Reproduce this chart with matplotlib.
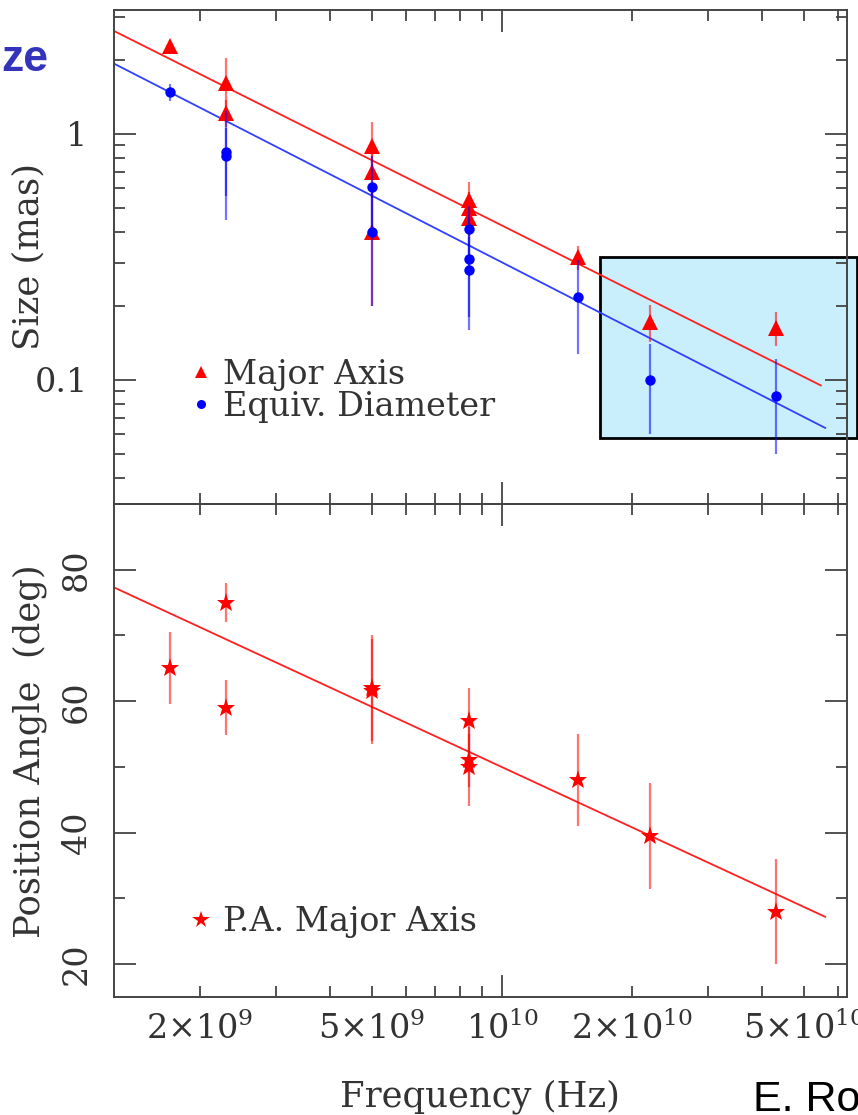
import math
import matplotlib
matplotlib.use("Agg")
import matplotlib.pyplot as plt
from matplotlib import ticker
from matplotlib.lines import Line2D
from matplotlib.patches import Rectangle

# --- data -----------------------------------------------------------------
# frequencies in Hz, sizes in mas, position angles in deg
freq_major = [1.7e9, 2.3e9, 2.3e9, 5.0e9, 5.0e9, 5.0e9, 8.4e9, 8.4e9, 8.4e9, 15e9, 22e9, 43e9]
size_major = [2.28, 1.61, 1.22, 0.89, 0.70, 0.40, 0.54, 0.50, 0.455, 0.316, 0.172, 0.163]
err_major = [0.10, 0.43, 0.15, 0.23, 0.15, 0.20, 0.10, 0.08, 0.07, 0.035, 0.03, 0.025]

freq_equiv = [1.7e9, 2.3e9, 2.3e9, 5.0e9, 5.0e9, 8.4e9, 8.4e9, 8.4e9, 15e9, 22e9, 43e9]
size_equiv = [1.48, 0.845, 0.81, 0.61, 0.40, 0.41, 0.31, 0.28, 0.218, 0.100, 0.086]
err_equiv = [0.12, 0.40, 0.25, 0.20, 0.20, 0.10, 0.15, 0.10, 0.09, 0.04, 0.036]

freq_pa = [1.7e9, 2.3e9, 2.3e9, 5.0e9, 5.0e9, 8.4e9, 8.4e9, 8.4e9, 15e9, 22e9, 43e9]
pa_major = [65.0, 75.0, 59.0, 62.0, 61.5, 57.0, 51.0, 50.0, 48.0, 39.5, 28.0]
err_pa = [5.5, 3.0, 4.2, 8.0, 8.0, 5.0, 4.0, 6.0, 7.0, 8.0, 8.0]

# fitted trends (end points)
fit_major_freq = [1.265e9, 5.47e10]
fit_major_size = [2.62, 0.095]
fit_equiv_freq = [1.265e9, 5.6e10]
fit_equiv_size = [1.93, 0.0638]
fit_pa_freq = [1.265e9, 5.6e10]
fit_pa = [77.3, 27.2]

plt.rcParams['font.family'] = ['DejaVu Serif']
plt.rcParams['mathtext.default'] = 'regular'

W, H = 858, 1115
fig = plt.figure(figsize=(W / 100, H / 100), dpi=100)
fig.patch.set_facecolor('white')

ax1 = fig.add_axes([114 / W, 1 - 504 / H, 733 / W, 494 / H])
ax2 = fig.add_axes([114 / W, 1 - 997 / H, 733 / W, 493 / H], sharex=ax1)
for ax in (ax1, ax2):
    ax.set_facecolor('none')

# highlight box (drawn under the axes content)
fig.patches.append(Rectangle((600 / W, 1 - 438 / H), 257 / W, 181 / H,
                             transform=fig.transFigure, facecolor='#c9eefc',
                             edgecolor='black', lw=2, zorder=-1))

TXT = '#333333'
FS = 24
FS_LAB = 25.5

# ---- top panel: size ------------------------------------------------------
ax1.plot(fit_major_freq, fit_major_size, color='#ff2020', lw=1.3, zorder=2)
ax1.plot(fit_equiv_freq, fit_equiv_size, color='#3040ff', lw=1.3, zorder=2)
ax1.errorbar(freq_major, size_major, yerr=err_major, fmt='^', color='red',
             ms=11, mew=0, ecolor=(1, 0, 0, 0.55), elinewidth=1.6, capsize=0,
             zorder=3)
ax1.errorbar(freq_equiv, size_equiv, yerr=err_equiv, fmt='o', color='blue',
             ms=7.5, mew=0, ecolor=(0, 0, 1, 0.55), elinewidth=1.6, capsize=0,
             zorder=4)

ax1.set_xscale('log')
ax1.set_yscale('log')
ax1.set_xlim(1.264e9, 6.29e10)
ax1.set_ylim(0.0313, 3.19)
ax1.yaxis.set_major_locator(ticker.FixedLocator([0.1, 1]))
ax1.yaxis.set_major_formatter(ticker.FixedFormatter(['0.1', '1']))
ax1.yaxis.set_minor_locator(ticker.LogLocator(base=10, subs=range(2, 10)))
ax1.yaxis.set_minor_formatter(ticker.NullFormatter())

handles1 = [Line2D([], [], ls='none', marker='^', color='red', ms=9, mew=0),
            Line2D([], [], ls='none', marker='o', color='blue', ms=6.5, mew=0)]
ax1.legend(handles1, ['Major Axis', 'Equiv. Diameter'], loc='lower left',
           bbox_to_anchor=(0.085, 0.13), frameon=False, fontsize=FS,
           handlelength=0.5, handletextpad=0.4, labelspacing=0,
           borderpad=0, labelcolor=TXT)

# ---- bottom panel: position angle -----------------------------------------
ax2.plot(fit_pa_freq, fit_pa, color='#ff2020', lw=1.3, zorder=2)
ax2.errorbar(freq_pa, pa_major, yerr=err_pa, fmt='*', color='red', ms=14,
             mew=0, ecolor=(1, 0, 0, 0.55), elinewidth=1.6, capsize=0,
             zorder=3)
ax2.set_ylim(15, 90)
ax2.yaxis.set_major_locator(ticker.MultipleLocator(20))
ax2.yaxis.set_minor_locator(ticker.FixedLocator([30, 50, 70]))
handles2 = [Line2D([], [], ls='none', marker='*', color='red', ms=13, mew=0)]
ax2.legend(handles2, ['P.A. Major Axis'], loc='lower left',
           bbox_to_anchor=(0.085, 0.085), frameon=False, fontsize=FS,
           handlelength=0.5, handletextpad=0.4, borderpad=0, labelcolor=TXT)


# shared x axis: major tick at decades, labels at 2 and 5 as well
def freq_label(x, pos):
    exp = int(math.floor(math.log10(x) + 1e-9))
    mant = x / 10 ** exp
    if abs(mant - 1) < 1e-6:
        return r'$10^{%d}$' % exp
    if abs(mant - 2) < 1e-6 or abs(mant - 5) < 1e-6:
        return r'$%d{\times}10^{%d}$' % (round(mant), exp)
    return ''


ax2.xaxis.set_major_locator(ticker.LogLocator(base=10, numticks=10))
ax2.xaxis.set_minor_locator(ticker.LogLocator(base=10, subs=range(2, 10), numticks=20))
ax2.xaxis.set_major_formatter(ticker.FuncFormatter(freq_label))
ax2.xaxis.set_minor_formatter(ticker.FuncFormatter(freq_label))

for ax in (ax1, ax2):
    ax.tick_params(which='both', direction='in', top=True, right=True,
                   colors='#444444', labelcolor=TXT, labelsize=FS)
    ax.tick_params(which='major', length=16, width=1.3)
    ax.tick_params(which='minor', length=8, width=1.3)
    for s in ax.spines.values():
        s.set_color('#444444')
        s.set_linewidth(1.4)

ax1.tick_params(axis='x', which='both', labelbottom=False)
ax1.tick_params(axis='y', which='major', pad=19)
ax2.tick_params(axis='x', which='both', pad=11)
ax2.tick_params(axis='y', which='major', pad=15, labelrotation=90)
for t in ax2.yaxis.get_majorticklabels():
    t.set_verticalalignment('center')

fig.text(28 / W, 1 - 257 / H, 'Size (mas)', rotation=90, ha='center',
         va='center', fontsize=FS_LAB, color=TXT)
fig.text(30 / W, 1 - 751 / H, 'Position Angle  (deg)', rotation=90,
         ha='center', va='center', fontsize=FS_LAB, color=TXT)
fig.text(480 / W, 1 - 1097 / H, 'Frequency (Hz)', ha='center', va='center',
         fontsize=FS_LAB, color=TXT)

# cropped slide text
fig.text(1 / W, 1 - 71 / H, 'ze', ha='left', va='baseline', fontsize=32,
         fontweight='bold', color='#3333bb', family='Liberation Sans')
fig.text(753 / W, 1 - 1111 / H, 'E. Ro', ha='left', va='baseline',
         fontsize=31, color='black', family='Liberation Sans')

fig.savefig('out.png', dpi=100)
